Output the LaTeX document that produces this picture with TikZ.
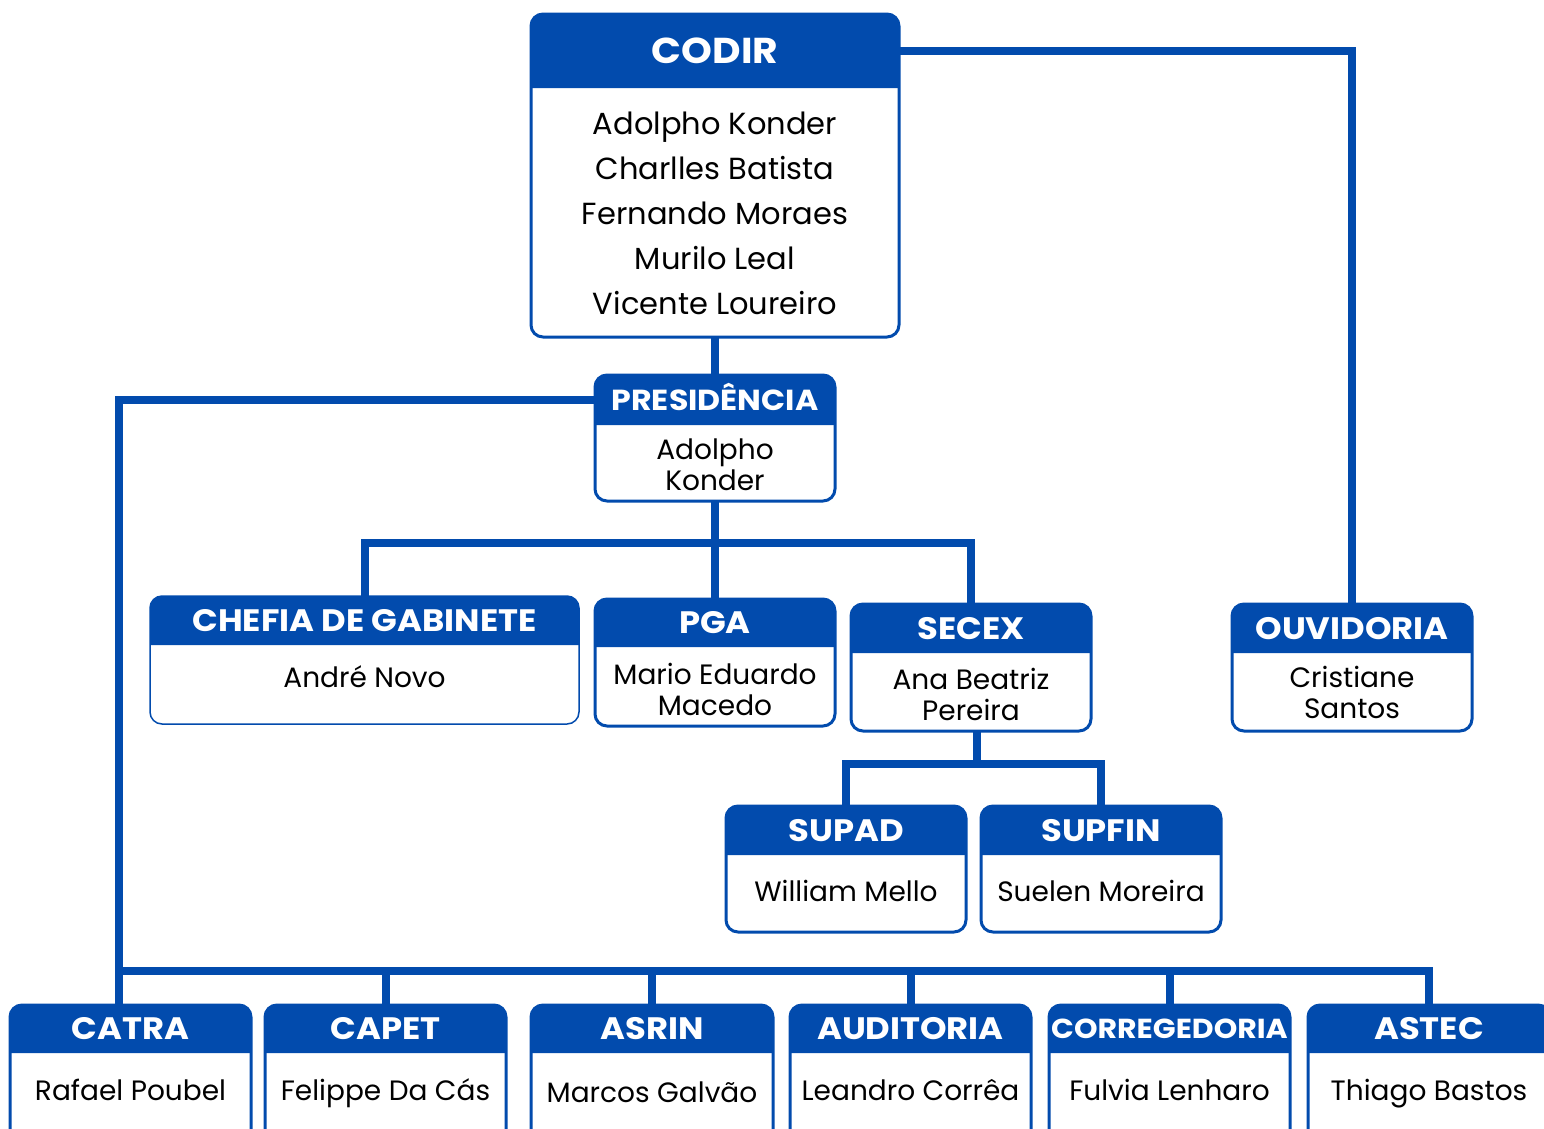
\documentclass[tikz,border=0pt]{standalone}
\usepackage{fontspec}
\setmainfont{Poppins}[BoldFeatures={FakeStretch=1.09}]
\usepackage{tikz}

\definecolor{orgblue}{RGB}{2,75,173}
\tikzset{
    unitframe/.style={fill=white,inner sep=0pt,outer sep=0pt,rounded corners=12pt},
    orgbox/.style={draw=orgblue,rounded corners=12pt},
    link/.style={draw=orgblue,line width=8pt},
    unittitle/.style={text=white,inner sep=0pt,text depth=0pt},
    unitnames/.style={align=center,inner sep=0pt}
}

\begin{document}
\begin{tikzpicture}[x=1pt,y=-1pt]
    \useasboundingbox (0,0) rectangle (1544,1128);
    % units: name/left/top/right/bottom/header/title/title size/line/names y/names size/leading/names
    \foreach \n/\l/\t/\r/\b/\h/\ti/\fs/\lw/\ny/\ns/\nl/\na in {
        codir/531/14/899/337/88/CODIR/36/3/213.5/30.5/45/{Adolpho Konder\\Charlles Batista\\Fernando Moraes\\Murilo Leal\\Vicente Loureiro},
        pres/595/375/835/501/425/PRESIDÊNCIA/29/3/465/28/31/{Adolpho\\Konder},
        chefia/150/596/579/724/645/CHEFIA DE GABINETE/31/1.5/677/28/31/{André Novo},
        pga/595/599/835/726/647/PGA/31/3/689.5/28/31/{Mario Eduardo\\Macedo},
        secex/851/604/1091/731/653/SECEX/31/3/694.5/28/31/{Ana Beatriz\\Pereira},
        ouv/1232/604/1472/731/653/OUVIDORIA/31/3/692.5/28/31/{Cristiane\\Santos},
        supad/726/806/966/932/855/SUPAD/31/3/891/28/31/{William Mello},
        supfin/981/806/1221/932/855/SUPFIN/31/3/891/28/31/{Suelen Moreira},
        catra/10/1005/251/1150/1053/CATRA/31/3/1090/28/31/{Rafael Poubel},
        capet/265/1005/506/1150/1053/CAPET/31/3/1093/28/31/{Felippe Da Cás},
        asrin/531/1005/773/1150/1053/ASRIN/31/3/1092/28/31/{Marcos Galvão},
        audit/790/1005/1031/1150/1053/AUDITORIA/31/3/1090/28/31/{Leandro Corrêa},
        corr/1049/1005/1290/1150/1053/CORREGEDORIA/27.5/3/1090/28/31/{Fulvia Lenharo},
        astec/1308/1005/1550/1150/1053/ASTEC/31/3/1094/28/31/{Thiago Bastos}}{
        \node [unitframe,anchor=north west,minimum width={\r-\l},minimum height={\b-\t}] (\n) at (\l,\t) {};
        \fill [orgblue] (\n.west |- 0,\h) [rounded corners=12pt] -- (\n.north west) -- (\n.north east)
            [sharp corners] -- (\n.east |- 0,\h) -- cycle;
        \draw [orgbox,line width=\lw pt] (\n.north west) rectangle (\n.south east);
        \node [unittitle,text height={0.7*\fs},font=\bfseries\fontsize{\fs}{\fs}\selectfont] (\n-t)
            at ({(\l+\r)/2},{(\t+\h)/2}) {\ti};
        \node [unitnames,font=\fontsize{\ns}{\nl}\selectfont] (\n-p) at ({(\l+\r)/2},\ny) {\na};
    }
    % connectors
    \coordinate (pbus) at (715,543);
    \coordinate (sbus) at (977,764);
    \coordinate (trunk) at (119,971);
    \draw [link] (codir-t -| codir.east) -| (ouv.north);
    \draw [link] (codir.south) -- (pres.north);
    \draw [link] (pres.south) -- (pga.north);
    \draw [link] (chefia.north) |- (pbus) -| (secex.north);
    \draw [link] (secex.south -| sbus) -- (sbus);
    \draw [link] (supad.north) |- (sbus) -| (supfin.north);
    \draw [link] (pres-t -| pres.west) -| (trunk |- catra.north);
    \draw [link] (trunk) -| (astec.north);
    \foreach \u in {capet,asrin,audit,corr}{
        \draw [link] (\u.north) -- (\u.north |- trunk);
    }
\end{tikzpicture}
\end{document}
